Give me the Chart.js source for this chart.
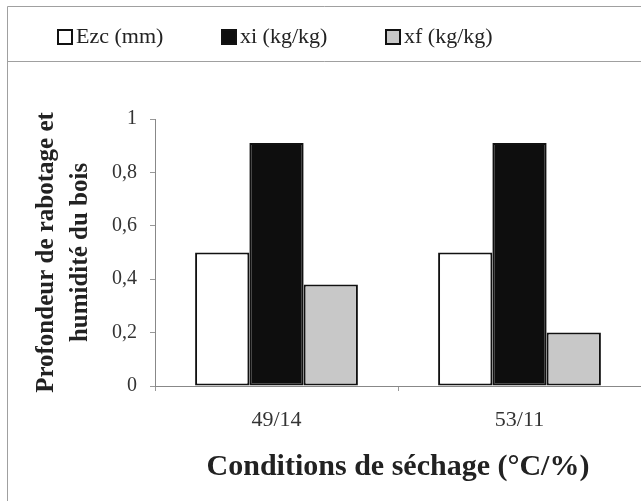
<!DOCTYPE html>
<html>
<head>
<meta charset="utf-8">
<script src="https://cdn.jsdelivr.net/npm/chart.js@4"></script>
<style>
  html, body { margin: 0; padding: 0; background: #fff; }
  #wrap { width: 641px; height: 501px; }
</style>
</head>
<body>
<div id="wrap"><canvas id="chart" width="641" height="501"></canvas></div>
<script>
// categories and values
const categories = ['49/14', '53/11'];
const seriesNames = ['Ezc (mm)', 'xi (kg/kg)', 'xf (kg/kg)'];
const ezcValues = [0.5, 0.5];
const xiValues = [0.91, 0.91];
const xfValues = [0.38, 0.2];
const yTickLabels = ['0', '0,2', '0,4', '0,6', '0,8', '1'];

const serif = "'Liberation Serif', 'Times New Roman', serif";
const fills = ['#ffffff', '#0e0e0e', '#c8c8c8'];

// ─── FRAME + LEGEND (drawn by hand, the scan has a boxed legend) ───
const framePlugin = {
    id: 'frame',
    beforeDraw(chart) {
        const ctx = chart.ctx;
        ctx.save();
        ctx.fillStyle = '#fff';
        ctx.fillRect(0, 0, chart.width, chart.height);
        ctx.strokeStyle = '#a0a0a0';
        ctx.lineWidth = 1;
        ctx.beginPath();
        ctx.moveTo(7.5, chart.height);
        ctx.lineTo(7.5, 6.5);
        ctx.lineTo(chart.width, 6.5);
        ctx.moveTo(7.5, 61.5);
        ctx.lineTo(chart.width, 61.5);
        ctx.stroke();
        ctx.restore();
    },
    afterDraw(chart) {
        const ctx = chart.ctx;
        const startX = 58, step = 164, midY = 37, box = 14;
        ctx.save();
        ctx.font = '22px ' + serif;
        ctx.textBaseline = 'middle';
        ctx.textAlign = 'left';
        chart.data.datasets.forEach((ds, i) => {
            const x = startX + i * step;
            ctx.fillStyle = ds.backgroundColor;
            ctx.fillRect(x, midY - box / 2, box, box);
            ctx.strokeStyle = '#111';
            ctx.lineWidth = 2;
            ctx.strokeRect(x, midY - box / 2, box, box);
            ctx.fillStyle = '#222';
            ctx.fillText(ds.label, x + 18, midY);
        });
        ctx.restore();
    }
};

const ctx = document.getElementById('chart').getContext('2d');
new Chart(ctx, {
    type: 'bar',
    data: {
        labels: categories,
        datasets: [ezcValues, xiValues, xfValues].map((vals, i) => ({
            label: seriesNames[i],
            data: vals,
            backgroundColor: fills[i],
            borderColor: '#111',
            borderWidth: 2,
            borderSkipped: false,
            categoryPercentage: 0.67,
            barPercentage: 1.0
        }))
    },
    options: {
        responsive: false,
        animation: false,
        layout: { padding: { top: 119, left: 0, right: 0, bottom: 0 } },
        plugins: {
            legend: { display: false },
            tooltip: { enabled: false }
        },
        scales: {
            x: {
                grid: { display: true, offset: true, drawOnChartArea: false, tickLength: 5, color: '#999' },
                border: { color: '#888', width: 1 },
                ticks: { color: '#333', padding: 16, font: { family: serif, size: 22 } },
                title: {
                    display: true,
                    text: 'Conditions de séchage (°C/%)',
                    color: '#222',
                    font: { family: serif, size: 30, weight: 'bold', lineHeight: 1.2 },
                    padding: { top: 10, bottom: 16 }
                },
                afterFit(scale) { scale.height = 115; }
            },
            y: {
                min: 0,
                max: 1,
                grid: { drawOnChartArea: false, tickLength: 5, color: '#999' },
                border: { color: '#888', width: 1 },
                ticks: {
                    stepSize: 0.2,
                    color: '#333',
                    padding: 13,
                    font: { family: serif, size: 20 },
                    callback: (v, i) => yTickLabels[i]
                },
                title: {
                    display: true,
                    text: ['Profondeur de rabotage et', 'humidité du bois'],
                    color: '#222',
                    font: { family: serif, size: 25, weight: 'bold', lineHeight: 1.36 },
                    padding: { top: 30, bottom: 0 }
                },
                afterFit(scale) { scale.width = 155; }
            }
        }
    },
    plugins: [framePlugin]
});
</script>
</body>
</html>
